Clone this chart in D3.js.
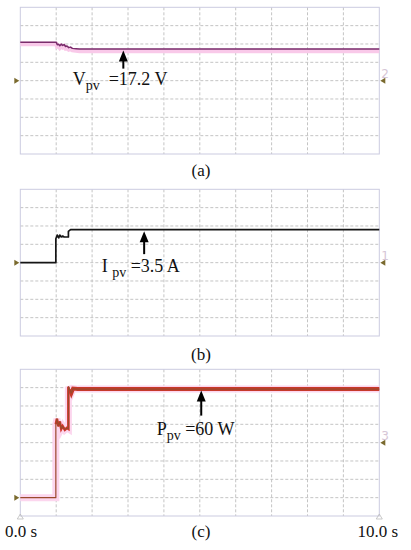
<!DOCTYPE html>
<html><head><meta charset="utf-8">
<script src="https://cdn.jsdelivr.net/npm/d3@7"></script>
<style>html,body{margin:0;padding:0;background:#fff;}svg{display:block;}</style>
</head><body>
<svg id="c" width="411" height="550"></svg>
<script>
// ---- data (time in s, values in physical units) ----
const vpvTime   = [0, 1.0, 1.03, 1.07, 1.1, 1.14, 1.18, 1.22, 1.26, 1.3, 1.35, 1.4, 1.45, 1.55, 1.65, 10];
const vpvValues = [21, 21, 19.6, 19.8, 19.0, 19.9, 19.2, 19.7, 18.6, 18.9, 18.0, 18.3, 17.6, 17.4, 17.2, 17.2];
const ipvTime   = [0, 0.99, 0.99, 1.03, 1.07, 1.1, 1.14, 1.18, 1.22, 1.3, 1.34, 1.34, 1.4, 1.5, 10];
const ipvValues = [0, 0, 2.6, 3.0, 2.7, 3.0, 2.8, 2.9, 2.8, 2.8, 2.8, 3.4, 3.6, 3.6, 3.6];
const ppvTime   = [0, 0.99, 0.99, 1.02, 1.06, 1.1, 1.14, 1.18, 1.24, 1.3, 1.34, 1.34, 1.38, 1.42, 1.47, 1.6, 10];
const ppvValues = [0, 0, 40, 43, 39, 41.5, 37.5, 39, 37, 38, 37.5, 60.5, 59, 57, 59.5, 59.2, 59.2];
const channelNames = ["2", "1", "3"];
const labelMain = ["V", "I ", "P"];
const labelValue = ["  =17.2 V", " =3.5 A", " =60 W"];
const arrowTime = [2.87, 3.45, 5.04];
const captions = ["(a)", "(b)", "(c)"];
const timeTicks = ["0.0 s", "10.0 s"];
const yDomains = [[-40, 40], [-8, 8], [-10, 70]];  // 8 divisions each
const groundLevels = [0, 0, 0];
const markerLevels = [0, 0, 30];

const svg = d3.select("#c");
const L = 20.3, R = 379.3, H = 146.7;
const tops = [7.3, 189.3, 369.3];
const x = d3.scaleLinear().domain([0, 10]).range([L, R]);
const serif = "'Liberation Serif','Times New Roman',serif";

const series = [
  {t: vpvTime, v: vpvValues, color: "#7a2d6c", halo: "#f9c9e9", haloW: 4.5, w: 1.5, haloDy: 1.8},
  {t: ipvTime, v: ipvValues, color: "#151515", halo: null, w: 1.7},
  {t: ppvTime, v: ppvValues, color: "#9a4a2c", halo: "#fcd6ee", haloW: 7, w: 1.2, band: "#c7392a"}
];

series.forEach((s, i) => {
  const top = tops[i];
  const y = d3.scaleLinear().domain(yDomains[i]).range([top + H, top]);
  const g = svg.append("g");
  // grid
  const xt = d3.range(1, 10);
  const yt = d3.range(1, 8).map(k => yDomains[i][0] + k * (yDomains[i][1] - yDomains[i][0]) / 8);
  g.selectAll(".vx").data(xt).join("line")
    .attr("x1", d => x(d)).attr("x2", d => x(d)).attr("y1", top).attr("y2", top + H)
    .attr("stroke", "#bdbdbd").attr("stroke-dasharray", "3,2").attr("stroke-width", 0.9);
  g.selectAll(".hy").data(yt).join("line")
    .attr("y1", d => y(d)).attr("y2", d => y(d)).attr("x1", L).attr("x2", R)
    .attr("stroke", "#bdbdbd").attr("stroke-dasharray", "3,2").attr("stroke-width", 0.9);
  g.append("rect").attr("x", L).attr("y", top).attr("width", R - L).attr("height", H)
    .attr("fill", "none").attr("stroke", "#cbcbe0").attr("stroke-width", 1);

  const pts = s.t.map((t, k) => [t, s.v[k]]);
  const line = d3.line().x(d => x(d[0])).y(d => y(d[1]));
  if (s.halo) {
    g.append("path").attr("d", line(pts)).attr("fill", "none")
      .attr("stroke", s.halo).attr("stroke-width", s.haloW)
      .attr("transform", `translate(0,${s.haloDy || 0})`);
  }
  if (s.band) {
    const plateau = pts.filter(d => d[0] >= 1.38);
    g.append("path").attr("d", line(plateau)).attr("fill", "none")
      .attr("stroke", s.band).attr("stroke-width", 4);
    const mid = pts.filter(d => d[0] >= 0.99 && d[0] <= 1.34 && d[1] > 30);
    g.append("path").attr("d", line(mid)).attr("fill", "none")
      .attr("stroke", "#d8332a").attr("stroke-width", 2.6);
  }
  g.append("path").attr("d", line(pts)).attr("fill", "none")
    .attr("stroke", s.color).attr("stroke-width", s.w).attr("stroke-linejoin", "round");

  // ground marker left
  const gy = y(groundLevels[i]);
  g.append("path").attr("d", `M${L - 6},${gy - 3}L${L - 1},${gy}L${L - 6},${gy + 3}Z`).attr("fill", "#7a6a2e");
  // channel marker right
  const my = y(markerLevels[i]);
  g.append("path").attr("d", `M${R + 6},${my - 3}L${R + 1},${my}L${R + 6},${my + 3}Z`).attr("fill", "#7a6a2e");
  g.append("text").attr("x", R + 2).attr("y", my - 3).text(channelNames[i])
    .attr("font-family", "'DejaVu Sans',sans-serif").attr("font-size", 12).attr("fill", "#d6c6d6");

  // arrow
  const ax = x(arrowTime[i]);
  const tipY = y(s.v[s.v.length - 1]) + 1.5;
  const tailY = tipY + (i === 1 ? 23 : (i === 2 ? 25 : 18));
  g.append("line").attr("x1", ax).attr("x2", ax).attr("y1", tipY + 8).attr("y2", tailY)
    .attr("stroke", "#000").attr("stroke-width", 2);
  g.append("path").attr("d", `M${ax},${tipY}L${ax - 4.5},${tipY + 11}L${ax + 4.5},${tipY + 11}Z`).attr("fill", "#000");

  // label
  const lx = [72.7, 101.7, 156.7][i], ly = [85, 271.5, 434.5][i];
  const t = g.append("text").attr("x", lx).attr("y", ly).attr("font-family", serif).attr("font-size", 18)
    .attr("fill", "#111").attr("xml:space", "preserve").style("white-space", "pre");
  t.append("tspan").text(labelMain[i]);
  t.append("tspan").attr("dy", 5).attr("font-size", 14).text("pv");
  t.append("tspan").attr("dy", -5).text(labelValue[i]);

  // caption
  svg.append("text").attr("x", 201).attr("y", [176, 360, 537][i]).attr("text-anchor", "middle")
    .attr("font-family", serif).attr("font-size", 17).attr("fill", "#111").text(captions[i]);
});

// time ticks under panel (c)
const bot = tops[2] + H;
svg.selectAll(".tri").data([0, 10]).join("path")
  .attr("d", d => `M${x(d) - 3},${bot + 3}L${x(d)},${bot - 2}L${x(d) + 3},${bot + 3}Z`)
  .attr("fill", "none").attr("stroke", "#bbb").attr("stroke-width", 0.8);
svg.selectAll(".tl").data(timeTicks).join("text")
  .attr("x", (d, k) => k === 0 ? 5 : 398).attr("y", 537)
  .attr("text-anchor", (d, k) => k === 0 ? "start" : "end")
  .attr("font-family", serif).attr("font-size", 17).attr("fill", "#111").text(d => d);
</script>
</body></html>
